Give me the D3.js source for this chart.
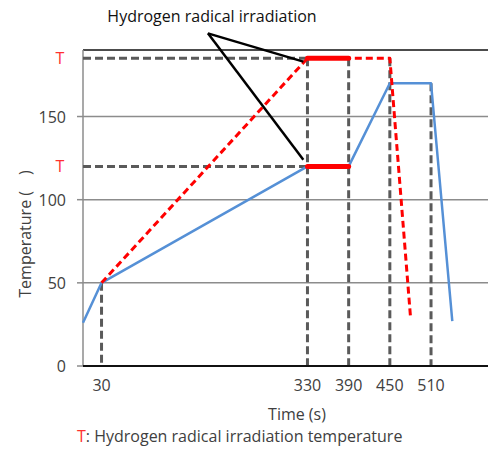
<!DOCTYPE html>
<html>
<head>
<meta charset="utf-8">
<style>
    body { margin: 0; background: white; }
    svg { display: block; font-family: 'Open Sans', sans-serif; }
    text { fill: #404040; }
</style>
</head>
<body>
<svg width="488" height="454"></svg>
<script src="https://cdnjs.cloudflare.com/ajax/libs/d3/7.8.5/d3.min.js"></script>
<script>
    // data
    let xTicks = [30, 330, 390, 450, 510]
    let yTicks = [0, 50, 100, 150]
    let tLevels = [185, 120]

    let blueTime = [3, 30, 330, 390, 450, 510, 541]
    let blueTemp = [26, 50, 120, 120, 170, 170, 27]

    let redTime = [30, 330, 390, 450, 480]
    let redTemp = [50, 185, 185, 185, 30]

    let irrStart = [330, 330]
    let irrEnd = [390, 390]
    let irrTemp = [185, 120]

    let guideTime = [30, 330, 390, 450, 510]
    let guideTop = [50, 185, 185, 185, 170]

    let noteApex = [185, 200]
    let noteTips = [[324, 183], [324, 124]]

    let svg = d3.select("svg")

    let x = d3.scaleLinear().domain([3, 593]).range([83, 488])
    let y = d3.scaleLinear().domain([0, 190]).range([366, 50])

    // gridlines
    svg.selectAll(".grid")
        .data(yTicks.filter(d => d > 0))
        .join("line")
        .attr("x1", x(3)).attr("x2", x(593))
        .attr("y1", d => y(d)).attr("y2", d => y(d))
        .style("stroke", "#8c8c8c")
        .style("stroke-width", 1.5)

    // top border
    svg.append("line")
        .attr("x1", x(3)).attr("x2", x(593))
        .attr("y1", y(190)).attr("y2", y(190))
        .style("stroke", "#111")
        .style("stroke-width", 1.5)

    // y axis line + ticks
    svg.append("line")
        .attr("x1", x(3)).attr("x2", x(3))
        .attr("y1", y(190)).attr("y2", y(0))
        .style("stroke", "#8c8c8c")
        .style("stroke-width", 1.5)

    svg.selectAll(".ytick")
        .data(yTicks)
        .join("line")
        .attr("x1", x(3) - 6).attr("x2", x(3))
        .attr("y1", d => y(d)).attr("y2", d => y(d))
        .style("stroke", "#8c8c8c")
        .style("stroke-width", 1.5)

    svg.selectAll(".ylab")
        .data(yTicks)
        .join("text")
        .attr("x", 66)
        .attr("y", d => y(d) + 6)
        .attr("text-anchor", "end")
        .style("font-size", "16px")
        .text(d => d)

    svg.selectAll(".tlab")
        .data(tLevels)
        .join("text")
        .attr("x", 60)
        .attr("y", d => y(d) + 6)
        .attr("text-anchor", "middle")
        .style("font-size", "16px")
        .style("fill", "#ff3030")
        .text("T")

    // gray dashed guides
    let dash = "8,4"
    svg.selectAll(".hguide")
        .data(tLevels)
        .join("line")
        .attr("x1", x(3)).attr("x2", x(330))
        .attr("y1", d => y(d)).attr("y2", d => y(d))
        .style("stroke", "#5a5a5a")
        .style("stroke-width", 3)
        .style("stroke-dasharray", dash)

    svg.selectAll(".vguide")
        .data(guideTime)
        .join("line")
        .attr("x1", d => x(d)).attr("x2", d => x(d))
        .attr("y1", (d, i) => y(guideTop[i])).attr("y2", y(0))
        .style("stroke", "#5a5a5a")
        .style("stroke-width", 3)
        .style("stroke-dasharray", dash)

    // x axis
    svg.append("line")
        .attr("x1", x(3)).attr("x2", x(593))
        .attr("y1", y(0)).attr("y2", y(0))
        .style("stroke", "#111")
        .style("stroke-width", 2)

    svg.selectAll(".xlab")
        .data(xTicks)
        .join("text")
        .attr("x", d => x(d))
        .attr("y", 391)
        .attr("text-anchor", "middle")
        .style("font-size", "16px")
        .text(d => d)

    let line = d3.line().x(d => x(d[0])).y(d => y(d[1]))

    // blue line
    svg.append("path")
        .attr("d", line(d3.zip(blueTime, blueTemp)))
        .style("fill", "none")
        .style("stroke", "#5590d6")
        .style("stroke-width", 2.5)
        .style("stroke-linejoin", "round")

    // red dashed line
    svg.append("path")
        .attr("d", line(d3.zip(redTime, redTemp)))
        .style("fill", "none")
        .style("stroke", "#ff0000")
        .style("stroke-width", 3)
        .style("stroke-dasharray", "7,4")
        .style("stroke-linejoin", "round")

    // irradiation periods
    svg.selectAll(".irr")
        .data(irrTemp)
        .join("line")
        .attr("x1", (d, i) => x(irrStart[i])).attr("x2", (d, i) => x(irrEnd[i]))
        .attr("y1", d => y(d)).attr("y2", d => y(d))
        .style("stroke", "#ff0000")
        .style("stroke-width", 5)
        .style("stroke-linecap", "round")

    // annotation
    svg.selectAll(".note")
        .data(noteTips)
        .join("line")
        .attr("x1", x(noteApex[0])).attr("y1", y(noteApex[1]))
        .attr("x2", d => x(d[0])).attr("y2", d => y(d[1]))
        .style("stroke", "#000")
        .style("stroke-width", 2.5)

    svg.append("text")
        .attr("x", 212)
        .attr("y", 22)
        .attr("text-anchor", "middle")
        .style("font-size", "16px")
        .style("fill", "#111")
        .text("Hydrogen radical irradiation")

    svg.append("text")
        .attr("transform", "translate(31,234) rotate(-90)")
        .attr("text-anchor", "middle")
        .style("font-size", "16px")
        .text("Temperature (\u2003)")

    svg.append("text")
        .attr("x", 297)
        .attr("y", 420)
        .attr("text-anchor", "middle")
        .style("font-size", "16px")
        .text("Time (s)")

    let cap = svg.append("text")
        .attr("x", 77)
        .attr("y", 442)
        .style("font-size", "16px")
    cap.append("tspan").style("fill", "#ff3030").text("T")
    cap.append("tspan").text(": Hydrogen radical irradiation temperature")
</script>
</body>
</html>
